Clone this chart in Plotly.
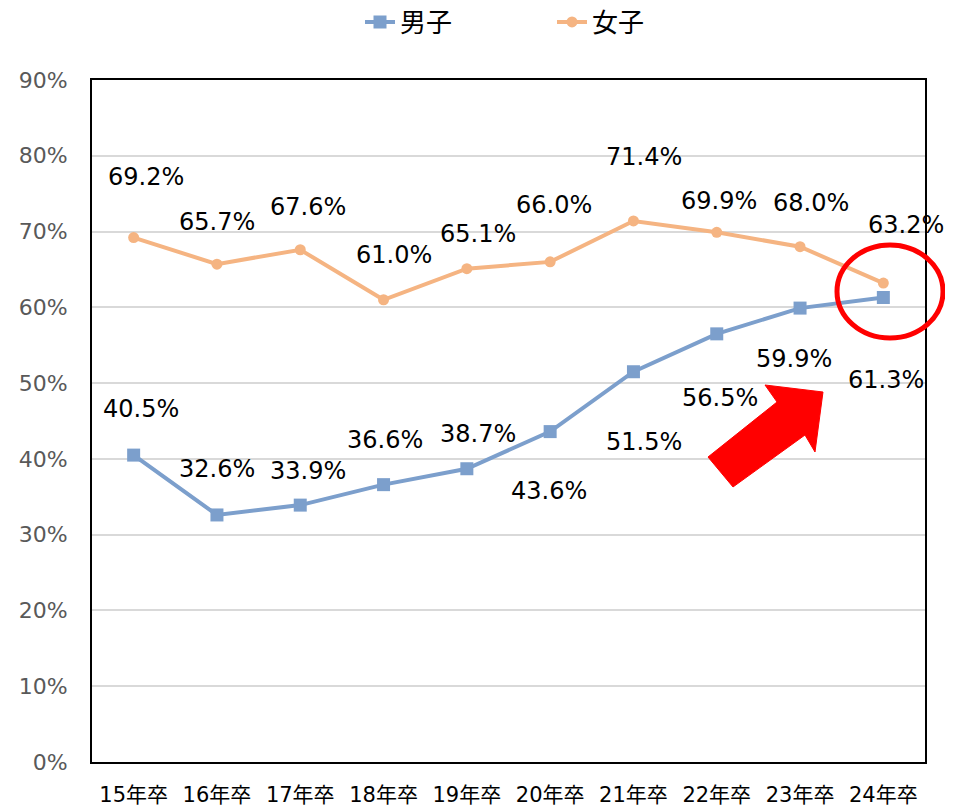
import plotly.graph_objects as go

categories = ["15年卒", "16年卒", "17年卒", "18年卒", "19年卒", "20年卒", "21年卒", "22年卒", "23年卒", "24年卒"]
male = [40.5, 32.6, 33.9, 36.6, 38.7, 43.6, 51.5, 56.5, 59.9, 61.3]
female = [69.2, 65.7, 67.6, 61.0, 65.1, 66.0, 71.4, 69.9, 68.0, 63.2]
y_ticks = [0, 10, 20, 30, 40, 50, 60, 70, 80, 90]

# label pixel offsets (style only)
male_dx = [7, 0, 8, 1, 11, -1, 11, 3, -6, 3]
male_dy = [46, 46, 34, 45, 35, -59, -70, -64, -51, -83]
female_dx = [12, 0, 8, 10, 11, 4, 11, 2, 11, 23]
female_dy = [61, 42, 43, 45, 35, 57, 64, 31, 44, 58]

OFF = 8  # default page body margin
W, H = 953 - OFF, 809 - OFF
L, R, T, B = 92 - OFF, 925 - OFF, 80 - OFF, 762 - OFF

def px(x, y):
    # screen pixel -> paper coordinates
    x -= OFF
    y -= OFF
    return (x - L) / (R - L), (B - y) / (B - T)

MALE_C = "#7C9FCC"
FEMALE_C = "#F5B482"
FONT = "DejaVu Sans, Noto Sans CJK JP, sans-serif"

fig = go.Figure()
fig.add_trace(go.Scatter(x=categories, y=male, name="男子", mode="lines+markers",
                         line=dict(color=MALE_C, width=4),
                         marker=dict(symbol="square", size=13, color=MALE_C)))
fig.add_trace(go.Scatter(x=categories, y=female, name="女子", mode="lines+markers",
                         line=dict(color=FEMALE_C, width=4),
                         marker=dict(symbol="circle", size=11, color=FEMALE_C)))

ann = []
for i, c in enumerate(categories):
    ann.append(dict(x=c, y=male[i], xref="x", yref="y", text=f"{male[i]:.1f}%", showarrow=False,
                    xshift=male_dx[i], yshift=male_dy[i], font=dict(size=24, color="#000000", family=FONT)))
    ann.append(dict(x=c, y=female[i], xref="x", yref="y", text=f"{female[i]:.1f}%", showarrow=False,
                    xshift=female_dx[i], yshift=female_dy[i], font=dict(size=24, color="#000000", family=FONT)))

arrow_px = [(708, 457), (777, 402), (765, 385), (823, 392), (815, 452), (805, 435), (733, 487)]
pts = [px(a, b) for a, b in arrow_px]
path = "M " + " L ".join(f"{a:.5f},{b:.5f}" for a, b in pts) + " Z"

e0 = px(837, 338)
e1 = px(943, 245)

shapes = [
    dict(type="path", path=path, xref="paper", yref="paper", fillcolor="#FF0000",
         line=dict(color="#FF0000", width=1)),
    dict(type="circle", xref="paper", yref="paper", x0=e0[0], y0=e0[1], x1=e1[0], y1=e1[1],
         line=dict(color="#FF0000", width=5)),
]

fig.update_layout(
    width=W, height=H,
    margin=dict(l=L, r=W - R, t=T, b=H - B, autoexpand=False),
    plot_bgcolor="white", paper_bgcolor="white",
    font=dict(family=FONT),
    showlegend=True,
    legend=dict(orientation="h", x=px(360, 0)[0], xanchor="left", y=px(0, 22)[1], yanchor="middle",
                font=dict(size=26, color="#000000"), entrywidth=147, entrywidthmode="pixels",
                traceorder="normal"),
    annotations=ann,
    shapes=shapes,
)
fig.update_xaxes(type="category", range=[-0.5, 9.5], showgrid=False, showline=True, mirror=True,
                 linecolor="black", linewidth=2, ticks="", tickfont=dict(size=21, color="#000000"),
                 ticklabelstandoff=13, automargin=False)
fig.update_yaxes(range=[0, 90], tickvals=y_ticks, ticktext=[f"{v}%" for v in y_ticks],
                 showgrid=True, gridcolor="#D9D9D9", gridwidth=2, showline=True, mirror=True,
                 linecolor="black", linewidth=2, ticks="", zeroline=False,
                 tickfont=dict(size=22, color="#595959"), ticklabelstandoff=18, automargin=False)

fig.write_html("out.html")
